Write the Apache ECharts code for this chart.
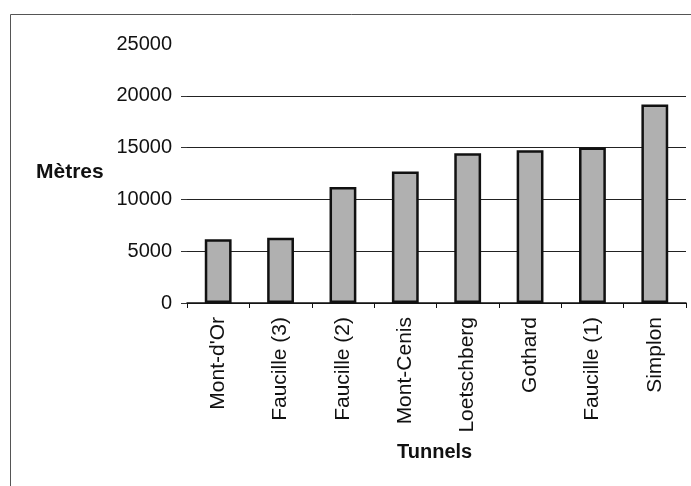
<!DOCTYPE html>
<html>
<head>
<meta charset="utf-8">
<script src="https://cdn.jsdelivr.net/npm/echarts@6/dist/echarts.min.js"></script>
<style>
  html, body { margin: 0; padding: 0; background: #fff; }
  #chart { width: 691px; height: 486px; }
</style>
</head>
<body>
<div id="chart"></div>
<script>
// Tunnel lengths in metres
const tunnels = ["Mont-d'Or", 'Faucille (3)', 'Faucille (2)', 'Mont-Cenis', 'Loetschberg', 'Gothard', 'Faucille (1)', 'Simplon'];
const lengths = [6150, 6300, 11200, 12700, 14450, 14750, 15000, 19150];
const yTicks = [0, 5000, 10000, 15000, 20000, 25000];

const FONT = 'Arial, "Liberation Sans", sans-serif';
const chart = echarts.init(document.getElementById('chart'), null, { renderer: 'canvas' });

chart.setOption({
  backgroundColor: '#ffffff',
  animation: false,
  grid: { left: 187, right: 5, top: 44, bottom: 183, containLabel: false },
  xAxis: {
    type: 'category',
    data: tunnels,
    boundaryGap: true,
    axisLine: { show: true, lineStyle: { color: '#111', width: 1.5 } },
    axisTick: { show: true, length: 5, lineStyle: { color: '#111', width: 1 } },
    axisLabel: {
      rotate: 90,
      margin: 14,
      color: '#111',
      fontFamily: FONT,
      fontSize: 21
    }
  },
  yAxis: {
    type: 'value',
    min: yTicks[0],
    max: yTicks[yTicks.length - 1],
    interval: 5000,
    axisLine: { show: false },
    axisTick: {
      show: true,
      length: 6,
      customValues: yTicks.slice(0, -1),
      lineStyle: { color: '#333' }
    },
    axisLabel: {
      margin: 15,
      color: '#111',
      fontFamily: FONT,
      fontSize: 20,
      formatter: (v) => String(v)
    },
    splitLine: {
      show: true,
      // no gridline at the top of the value range
      lineStyle: { color: ['#222', '#222', '#222', '#222', '#222', 'rgba(0,0,0,0)'], width: 1 }
    }
  },
  series: [{
    type: 'bar',
    data: lengths,
    barWidth: '43%',
    itemStyle: {
      color: '#b0b0b0',
      borderColor: '#111',
      borderWidth: 2.5
    }
  }],
  graphic: [
    {
      type: 'rect',
      shape: { x: 10.5, y: 14.5, width: 720, height: 520 },
      style: { fill: 'none', stroke: '#555', lineWidth: 1 },
      silent: true
    },
    {
      type: 'text',
      left: 36,
      top: 162,
      style: { text: 'Mètres', font: 'bold 21px ' + FONT, fill: '#111' }
    },
    {
      type: 'text',
      left: 397,
      top: 442,
      style: { text: 'Tunnels', font: 'bold 20px ' + FONT, fill: '#111' }
    }
  ]
});
</script>
</body>
</html>
